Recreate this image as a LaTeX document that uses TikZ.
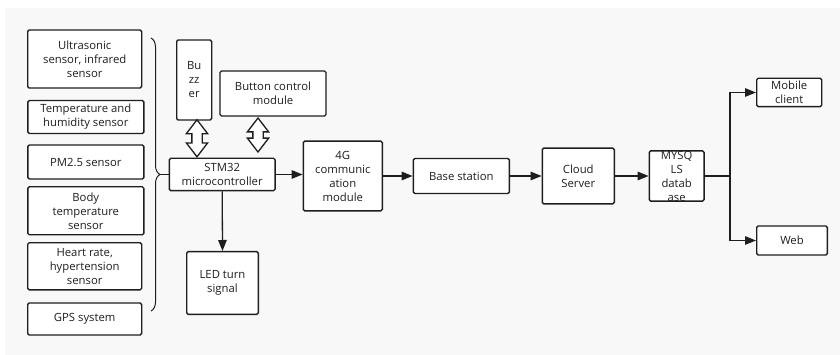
\documentclass[tikz,border=0pt]{standalone}
\usepackage{fontspec}
\setmainfont{Open Sans}
\usepackage{xcolor}
\usepackage{tikz}
\usetikzlibrary{positioning, shapes.arrows, calc, arrows.meta, decorations.pathreplacing}
\definecolor{dgLine}{RGB}{30, 30, 30}
\definecolor{dgBack}{RGB}{248, 248, 248}
\tikzset{
    base/.style={
        font=\fontsize{11.3}{14}\selectfont,
        align=center,
        text=dgLine
    },
    block/.style={
        base,
        rectangle,
        rounded corners=1.5pt,
        draw=dgLine,
        line width=1.4pt,
        fill=white,
        inner sep=0pt
    },
    flow/.style={
        -{Triangle[length=11pt, width=8.5pt]},
        line width=1.3pt,
        color=dgLine
    },
    link/.style={
        line width=1.3pt,
        color=dgLine
    },
    dblarrow/.style={
        double arrow,
        draw=dgLine,
        line width=1.3pt,
        fill=white,
        shape border rotate=90,
        inner sep=4.5pt,
        minimum width=20pt,
        double arrow head extend=5.5pt,
        double arrow tip angle=75
    }
}

\begin{document}
\begin{tikzpicture}[x=1pt, y=-1pt]
    \useasboundingbox (0,0) rectangle (840,355);
    \fill[dgBack] (5,8) rectangle (840,355);

    % Sensors
    \node[block, minimum width=114pt, minimum height=58pt] (ultra) at (84.7,59) {Ultrasonic\\sensor, infrared\\sensor};
    \node[block, minimum width=116pt, minimum height=33pt] (humid) at (85.8,117) {Temperature and\\humidity sensor};
    \node[block, minimum width=116pt, minimum height=34pt] (pm) at (85.8,162) {PM2.5 sensor};
    \node[block, minimum width=116pt, minimum height=48pt] (body) at (85.8,210.8) {Body\\temperature\\sensor};
    \node[block, minimum width=114pt, minimum height=47pt] (heart) at (84.7,266.3) {Heart rate,\\hypertension\\sensor};
    \node[block, minimum width=114pt, minimum height=32pt] (gps) at (84.7,319) {GPS system};

    % Brace
    \draw[link, line width=1pt, decorate, decoration={brace, amplitude=9pt}] (151,38) -- (151,311);
    \coordinate (braceTip) at (160,174.5);

    % Controller
    \node[block, minimum width=35pt, minimum height=80pt] (buzzer) at (194.2,80) {Bu\\zz\\er};
    \node[block, minimum width=106pt, minimum height=45pt] (button) at (273,93.5) {Button control\\module};
    \node[block, minimum width=105.7pt, minimum height=32.4pt] (stm) at (222.2,174.5) {STM32\\microcontroller};
    \node[block, minimum width=71.6pt, minimum height=62.6pt] (led) at (222.5,283) {LED turn\\signal};
    \node[dblarrow, minimum height=37pt] (buzArrow) at (197,138.3) {};
    \node[dblarrow, minimum height=34pt] (btnArrow) at (258,135) {};

    % Network
    \node[block, minimum width=79pt, minimum height=69.7pt] (comm) at (342.8,176) {4G\\communic\\ation\\module};
    \node[block, minimum width=96pt, minimum height=35pt] (station) at (461.3,176) {Base station};
    \node[block, minimum width=72pt, minimum height=55.7pt] (cloud) at (578.3,176) {Cloud\\Server};
    \node[block, minimum width=54.7pt, minimum height=48.3pt] (mysql) at (676.7,176) {MYSQ\\LS\\datab\\ase};
    \node[block, minimum width=65pt, minimum height=28.4pt] (mobile) at (789.2,92.5) {Mobile\\client};
    \node[block, minimum width=70.6pt, minimum height=29pt] (web) at (792,240.5) {Web};
    \coordinate (split) at (730,176);

    % Connections
    \draw[link] (braceTip) -- (stm.west);
    \draw[flow] (stm.south) -- (led.north);
    \draw[flow] (stm.east) -- (stm.east -| comm.west);
    \draw[flow] (comm.east) -- (station.west);
    \draw[flow] (station.east) -- (cloud.west);
    \draw[flow] (cloud.east) -- (mysql.west);
    \draw[link] (mysql.east) -- (split);
    \draw[flow] (split) |- (mobile.west);
    \draw[flow] (split) |- (web.west);
\end{tikzpicture}
\end{document}
